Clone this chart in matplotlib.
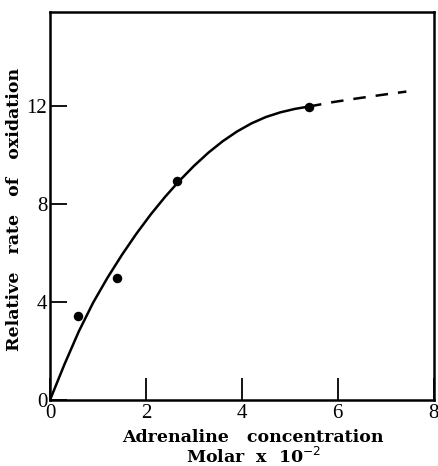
import matplotlib
matplotlib.use("Agg")
import matplotlib.pyplot as plt

#measured points
conc = [0.58, 1.4, 2.65, 5.4]
rate = [3.45, 5.0, 8.95, 11.95]

#smooth curve (solid part)
curve_x = [0, 0.3, 0.6, 0.9, 1.2, 1.5, 1.8, 2.1, 2.4, 2.7, 3.0, 3.3, 3.6, 3.9, 4.2, 4.5, 4.8, 5.1, 5.4]
curve_y = [0, 1.45, 2.8, 3.98, 5.0, 5.93, 6.79, 7.58, 8.30, 8.96, 9.56, 10.10, 10.57, 10.97, 11.30, 11.56, 11.75, 11.89, 11.99]

#extrapolated part (dashed)
dash_x = [5.4, 5.9, 6.4, 6.9, 7.43]
dash_y = [11.99, 12.17, 12.32, 12.46, 12.6]

xticks = [0, 2, 4, 6, 8]
yticks = [0, 4, 8, 12]

plt.rcParams['font.family'] = ['Liberation Serif', 'DejaVu Serif']
fig = plt.figure(figsize=(4.39, 4.66), dpi=100)
ax = fig.add_axes([0.1139, 0.1416, 0.874, 0.8326])

ax.plot(curve_x, curve_y, color='black', lw=1.8, solid_capstyle='round')
ax.plot(dash_x, dash_y, color='black', lw=1.8, dashes=(5, 4))
ax.scatter(conc, rate, s=34, color='black', zorder=3)

ax.set_xlim(0, 8)
ax.set_ylim(0, 15.85)
ax.set_xticks(xticks)
ax.set_yticks(yticks)
ax.tick_params(direction='in', width=1.3, labelsize=15, top=False, right=False)
ax.tick_params(axis='x', length=16, pad=3)
ax.tick_params(axis='y', length=12, pad=2)
for s in ax.spines.values():
    s.set_linewidth(1.8)

ax.set_xlabel("Adrenaline   concentration\nMolar  x  10$^{-2}$", fontsize=12.5,
              fontweight='bold', linespacing=1.05, family='DejaVu Serif')
ax.xaxis.set_label_coords(0.53, -0.075)
ax.set_ylabel("Relative   rate   of   oxidation", fontsize=12.5, fontweight='bold',
              family='DejaVu Serif')
ax.yaxis.set_label_coords(-0.07, 0.49)

plt.savefig("out.png", dpi=100)
